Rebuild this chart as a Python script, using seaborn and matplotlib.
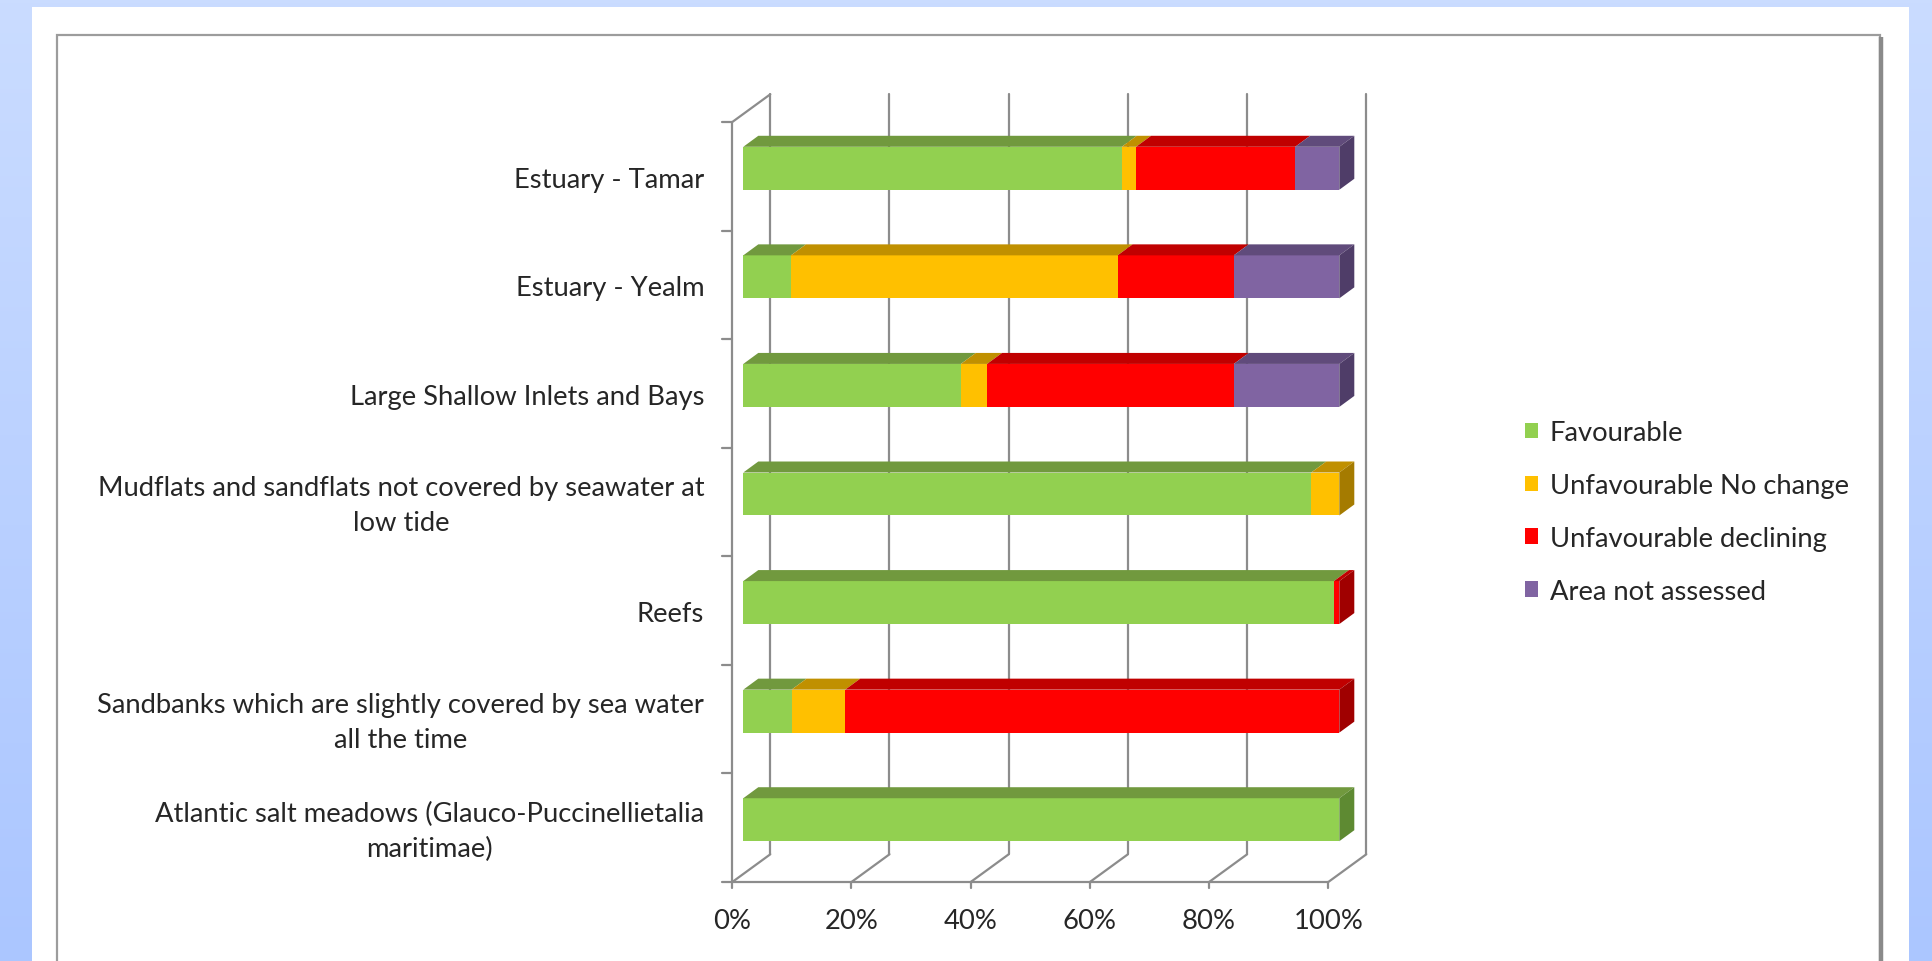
import numpy as np
import matplotlib
matplotlib.use("Agg")
import matplotlib.pyplot as plt
import seaborn as sns
from matplotlib.patches import Polygon, Rectangle, Patch
from matplotlib.colors import LinearSegmentedColormap
from matplotlib.transforms import offset_copy

# ---------------- data ----------------
categories = [
    "Estuary - Tamar",
    "Estuary - Yealm",
    "Large Shallow Inlets and Bays",
    "Mudflats and sandflats not covered by seawater at\nlow tide",
    "Reefs",
    "Sandbanks which are slightly covered by sea water\nall the time",
    "Atlantic salt meadows (Glauco-Puccinellietalia\nmaritimae)",
]
series_names = ["Favourable", "Unfavourable No change",
                "Unfavourable declining", "Area not assessed"]
favourable = [63.5, 8.0, 36.5, 95.3, 99.1, 8.1, 100.0]
no_change = [2.4, 54.8, 4.4, 4.7, 0.0, 9.0, 0.0]
declining = [26.7, 19.5, 41.4, 0.0, 0.9, 82.9, 0.0]
not_assessed = [7.4, 17.7, 17.7, 0.0, 0.0, 0.0, 0.0]
x_ticks = [0, 20, 40, 60, 80, 100]
x_tick_labels = ["0%", "20%", "40%", "60%", "80%", "100%"]

series = [favourable, no_change, declining, not_assessed]
front_colors = ["#92D050", "#FFC000", "#FF0000", "#8064A2"]
top_colors = ["#71993E", "#C09000", "#C00000", "#604B7B"]
side_colors = ["#5E8A32", "#A57B00", "#A00000", "#4F3D68"]

# ---------------- figure ----------------
W, H = 1933, 962
sns.set_theme(style="white")
plt.rcParams["font.family"] = ["Lato", "DejaVu Sans"]
FS = 19.7
TXT = "#262626"

fig = plt.figure(figsize=(W / 100, H / 100), dpi=100)

# background frame
bg = fig.add_axes([0, 0, 1, 1], zorder=0)
bg.set_xlim(0, W)
bg.set_ylim(H, 0)
bg.axis("off")
cmap = LinearSegmentedColormap.from_list("bgblue", ["#CADCFF", "#ABC6FF"])
bg.imshow(np.linspace(0, 1, 256).reshape(-1, 1), extent=(0, W, H, 0),
          aspect="auto", cmap=cmap)
bg.add_patch(Rectangle((31.7, 8.3), 1909 - 31.7, H, facecolor="white",
                       edgecolor="none"))
bg.add_patch(Rectangle((57, 36), 1880 - 57, H, facecolor="white",
                       edgecolor="#9c9c9c", lw=1.6))
bg.plot([1881, 1881], [38, H], color="#8a8a8a", lw=3.2, solid_capstyle="butt")

# main axes = front plane of the bars
left_px, right_px, top_px, bot_px = 743.3, 1339.3, 115.0, 875.0
ax = fig.add_axes([left_px / W, 1 - bot_px / H, (right_px - left_px) / W,
                   (bot_px - top_px) / H], zorder=1)
ax.patch.set_alpha(0)

bar_h = 0.396
cums = np.cumsum(np.array(series), axis=0)
for k in reversed(range(len(series))):
    sns.barplot(x=cums[k], y=categories, orient="h", color=front_colors[k],
                saturation=1, width=bar_h, edgecolor="none", linewidth=0,
                ax=ax, zorder=2)

ax.set_xlim(0, 100)
ax.set_ylim(6.5, -0.5)
ax.set_xticks([])
ax.set_yticks([])
ax.set_xlabel("")
ax.set_ylabel("")
for s in ax.spines.values():
    s.set_visible(False)

# depth offsets (pixels -> data units)
px_x = (right_px - left_px) / 100.0
px_y = (bot_px - top_px) / 7.0
wf = (-11 / px_x, 8 / px_y)       # wall front plane
wb = (27 / px_x, -19.7 / px_y)    # back wall plane
bb = (15 / px_x, -11 / px_y)      # back face of bars

GRID = "#8c8c8c"
lw_g = 1.6
n = len(categories)
y_top, y_bot = -0.5, n - 0.5

# back wall gridlines
for xv in x_ticks:
    ax.plot([xv + wb[0]] * 2, [y_top + wb[1], y_bot + wb[1]], color=GRID,
            lw=lw_g, zorder=0.5, clip_on=False)
    # floor diagonals
    ax.plot([xv + wf[0], xv + wb[0]], [y_bot + wf[1], y_bot + wb[1]],
            color=GRID, lw=lw_g, zorder=0.5, clip_on=False)
    # tick marks below floor front
    ax.plot([xv + wf[0]] * 2, [y_bot + wf[1], y_bot + wf[1] + 6 / px_y],
            color=GRID, lw=lw_g, zorder=0.5, clip_on=False)
# floor front line
ax.plot([0 + wf[0], 100 + wf[0]], [y_bot + wf[1]] * 2, color=GRID, lw=lw_g,
        zorder=0.5, clip_on=False)
# left wall
ax.plot([wf[0]] * 2, [y_top + wf[1], y_bot + wf[1]], color=GRID, lw=lw_g,
        zorder=0.5, clip_on=False)
ax.plot([wf[0], wb[0]], [y_top + wf[1], y_top + wb[1]], color=GRID, lw=lw_g,
        zorder=0.5, clip_on=False)
for j in range(n + 1):
    yv = y_top + j + wf[1]
    ax.plot([wf[0] - 10 / px_x, wf[0]], [yv, yv], color=GRID, lw=lw_g,
            zorder=0.5, clip_on=False)

# 3D faces of the bars
for i in range(n):
    yt = i - bar_h / 2
    yb = i + bar_h / 2
    start = 0.0
    last_k, last_end = None, None
    for k in range(len(series)):
        v = series[k][i]
        if v <= 0:
            continue
        x0, x1 = start, start + v
        ax.add_patch(Polygon([(x0, yt), (x1, yt), (x1 + bb[0], yt + bb[1]),
                              (x0 + bb[0], yt + bb[1])], closed=True,
                             facecolor=top_colors[k], edgecolor="none",
                             zorder=3, clip_on=False))
        start = x1
        last_k, last_end = k, x1
    ax.add_patch(Polygon([(last_end, yt), (last_end, yb),
                          (last_end + bb[0], yb + bb[1]),
                          (last_end + bb[0], yt + bb[1])], closed=True,
                         facecolor=side_colors[last_k], edgecolor="none",
                         zorder=3, clip_on=False))

# category labels on the wall front
lab_tr = offset_copy(ax.transData, fig=fig, x=-28, y=-3, units="dots")
for i, c in enumerate(categories):
    ax.text(wf[0], i + wf[1], c, transform=lab_tr, ha="right", va="center",
            multialignment="center", fontsize=FS, color=TXT, linespacing=1.5)

# value axis labels
xl_tr = offset_copy(ax.transData, fig=fig, x=0, y=-39, units="dots")
for xv, lab in zip(x_ticks, x_tick_labels):
    ax.text(xv + wf[0], y_bot + wf[1], lab, transform=xl_tr, ha="center",
            va="center", fontsize=FS, color=TXT)

# legend
handles = [Patch(facecolor=c, edgecolor="none") for c in front_colors]
fig.legend(handles, series_names, loc="center left",
           bbox_to_anchor=(1500 / W, 1 - 513 / H), frameon=False,
           fontsize=FS, handlelength=0.5, handleheight=0.5,
           handletextpad=0.42, labelspacing=1.02, labelcolor=TXT)

fig.savefig("out.png", dpi=100)
